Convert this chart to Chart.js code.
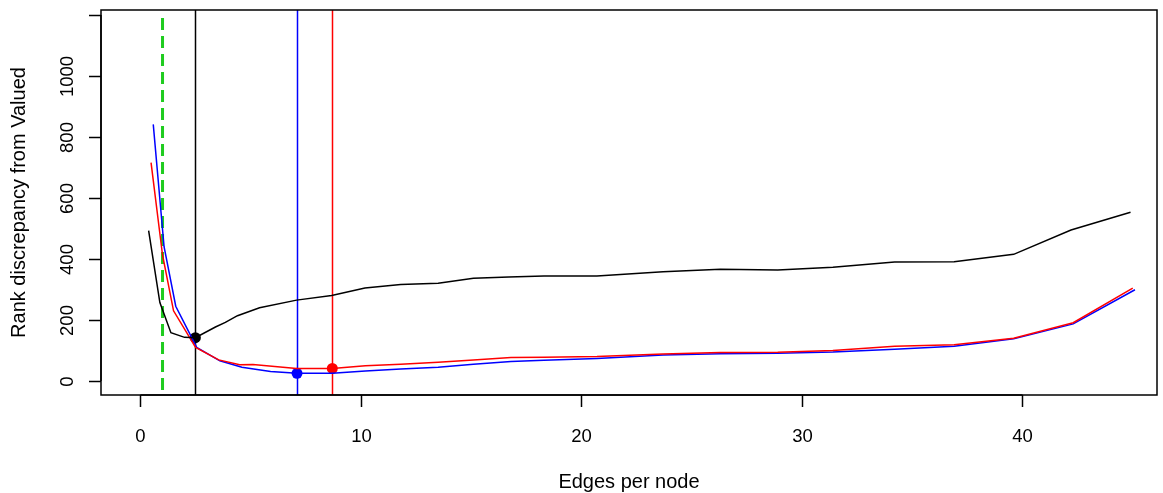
<!DOCTYPE html>
<html>
<head>
<meta charset="utf-8">
<script src="https://cdn.jsdelivr.net/npm/chart.js@4/dist/chart.umd.min.js"></script>
<style>
  html, body { margin: 0; padding: 0; background: #fff; }
  #wrap { width: 1163px; height: 493px; }
</style>
</head>
<body>
<div id="wrap"><canvas id="c" width="1163" height="493"></canvas></div>
<script>
// Rank discrepancy vs edges per node — three scoring curves plus their optima.

const blackX = [0.37, 0.88, 1.38, 2.0, 2.49, 3.4, 3.85, 4.4, 5.4, 7.08, 8.67, 10.18, 11.8, 13.5, 15.1, 16.7, 18.3, 20.7, 23.7, 26.3, 28.9, 31.4, 34.2, 36.9, 39.6, 42.2, 44.9];
const blackY = [493, 257, 158, 143, 142, 177, 192, 214, 240, 265, 280, 305, 316, 320, 337, 341, 344, 344, 358, 366, 364, 373, 390, 391, 415, 495, 553];

const redX = [0.48, 1.0, 1.5, 2.5, 3.55, 4.5, 5.1, 7.08, 8.7, 10.2, 11.8, 13.5, 15.1, 16.8, 18.3, 20.7, 23.7, 26.3, 28.9, 31.4, 34.2, 36.9, 39.6, 42.3, 45.0];
const redY = [716, 413, 230, 110, 69, 53, 54, 41, 41, 50, 55, 61, 69, 77, 78, 80, 88, 93, 94, 100, 114, 119, 140, 191, 304];

const blueX = [0.58, 1.07, 1.6, 2.55, 3.6, 4.6, 5.9, 7.1, 8.7, 10.2, 11.8, 13.5, 15.1, 16.8, 18.3, 20.7, 23.7, 26.3, 28.9, 31.4, 34.2, 36.9, 39.6, 42.3, 45.1];
const blueY = [841, 440, 245, 110, 66, 45, 31, 25, 25, 33, 39, 45, 55, 64, 68, 74, 85, 89, 91, 95, 104, 114, 138, 187, 299];

// optimum of each curve
const bestX = [2.49, 8.7, 7.1];
const bestY = [142, 41, 25];
const seriesColors = ["#000000", "#ff0000", "#0000ff"];

// reference line (dashed green)
const refX = 1.0;

const xTicks = [0, 10, 20, 30, 40];
const yTicks = [0, 200, 400, 600, 800, 1000, 1200];
const yTickLabels = ["0", "200", "400", "600", "800", "1000", ""];

const xTitle = "Edges per node";
const yTitle = "Rank discrepancy from Valued";

const TICK_FONT = '18.5px "Liberation Sans", Arial, sans-serif';
const TITLE_FONT = '20px "Liberation Sans", Arial, sans-serif';

function pts(xs, ys) {
  return xs.map((x, i) => ({ x: x, y: ys[i] }));
}

function curve(xs, ys, color) {
  return {
    data: pts(xs, ys),
    showLine: true,
    borderColor: color,
    backgroundColor: color,
    borderWidth: 1.5,
    pointRadius: 0,
    tension: 0,
  };
}

const vlines = {
  id: "vlines",
  beforeDatasetsDraw(chart) {
    const { ctx, chartArea: a, scales } = chart;
    ctx.save();
    ctx.lineWidth = 1.5;
    bestX.forEach((v, i) => {
      const px = Math.round(scales.x.getPixelForValue(v)) + 0.5;
      ctx.strokeStyle = seriesColors[i];
      ctx.beginPath();
      ctx.moveTo(px, a.top);
      ctx.lineTo(px, a.bottom);
      ctx.stroke();
    });
    const gx = scales.x.getPixelForValue(refX);
    ctx.strokeStyle = "#1fcc1f";
    ctx.lineWidth = 3;
    ctx.setLineDash([12, 6]);
    ctx.beginPath();
    ctx.moveTo(gx, a.top + 8);
    ctx.lineTo(gx, a.bottom);
    ctx.stroke();
    ctx.restore();
  },
};

const rAxes = {
  id: "rAxes",
  afterDraw(chart) {
    const { ctx, chartArea: a, scales } = chart;
    ctx.save();
    ctx.strokeStyle = "#000";
    ctx.fillStyle = "#000";
    ctx.lineWidth = 1.5;
    ctx.strokeRect(a.left, a.top, a.right - a.left, a.bottom - a.top);

    // x axis
    const x0 = scales.x.getPixelForValue(xTicks[0]);
    const x1 = scales.x.getPixelForValue(xTicks[xTicks.length - 1]);
    ctx.beginPath();
    ctx.moveTo(x0, a.bottom);
    ctx.lineTo(x1, a.bottom);
    ctx.stroke();
    ctx.textAlign = "center";
    ctx.textBaseline = "middle";
    ctx.font = TICK_FONT;
    xTicks.forEach((v) => {
      const px = Math.round(scales.x.getPixelForValue(v)) + 0.5;
      ctx.beginPath();
      ctx.moveTo(px, a.bottom);
      ctx.lineTo(px, a.bottom + 12);
      ctx.stroke();
      ctx.fillText(String(v), px, a.bottom + 42);
    });
    ctx.font = TITLE_FONT;
    ctx.fillText(xTitle, (a.left + a.right) / 2, a.bottom + 87);

    // y axis
    const y0 = scales.y.getPixelForValue(yTicks[0]);
    const y1 = scales.y.getPixelForValue(yTicks[yTicks.length - 1]);
    ctx.beginPath();
    ctx.moveTo(a.left, y0);
    ctx.lineTo(a.left, y1);
    ctx.stroke();
    ctx.font = TICK_FONT;
    yTicks.forEach((v, i) => {
      const py = Math.round(scales.y.getPixelForValue(v)) + 0.5;
      ctx.beginPath();
      ctx.moveTo(a.left, py);
      ctx.lineTo(a.left - 12, py);
      ctx.stroke();
      if (yTickLabels[i]) {
        ctx.save();
        ctx.translate(a.left - 33, py);
        ctx.rotate(-Math.PI / 2);
        ctx.fillText(yTickLabels[i], 0, 0);
        ctx.restore();
      }
    });
    ctx.font = TITLE_FONT;
    ctx.save();
    ctx.translate(a.left - 82, (a.top + a.bottom) / 2);
    ctx.rotate(-Math.PI / 2);
    ctx.fillText(yTitle, 0, 0);
    ctx.restore();
    ctx.restore();
  },
};

const datasets = [
  curve(blackX, blackY, seriesColors[0]),
  curve(redX, redY, seriesColors[1]),
  curve(blueX, blueY, seriesColors[2]),
];
bestX.forEach((v, i) => {
  datasets.push({
    data: [{ x: v, y: bestY[i] }],
    showLine: false,
    pointRadius: 5.5,
    pointBorderWidth: 0,
    backgroundColor: seriesColors[i],
    borderColor: seriesColors[i],
  });
});

new Chart(document.getElementById("c").getContext("2d"), {
  type: "scatter",
  data: { datasets: datasets },
  options: {
    responsive: false,
    animation: false,
    devicePixelRatio: 1,
    layout: { padding: { left: 101, right: 6, top: 10, bottom: 98 } },
    plugins: { legend: { display: false }, tooltip: { enabled: false } },
    scales: {
      x: { type: "linear", min: -1.79, max: 46.1, display: false },
      y: { type: "linear", min: -46, max: 1216, display: false },
    },
  },
  plugins: [vlines, rAxes],
});
</script>
</body>
</html>
